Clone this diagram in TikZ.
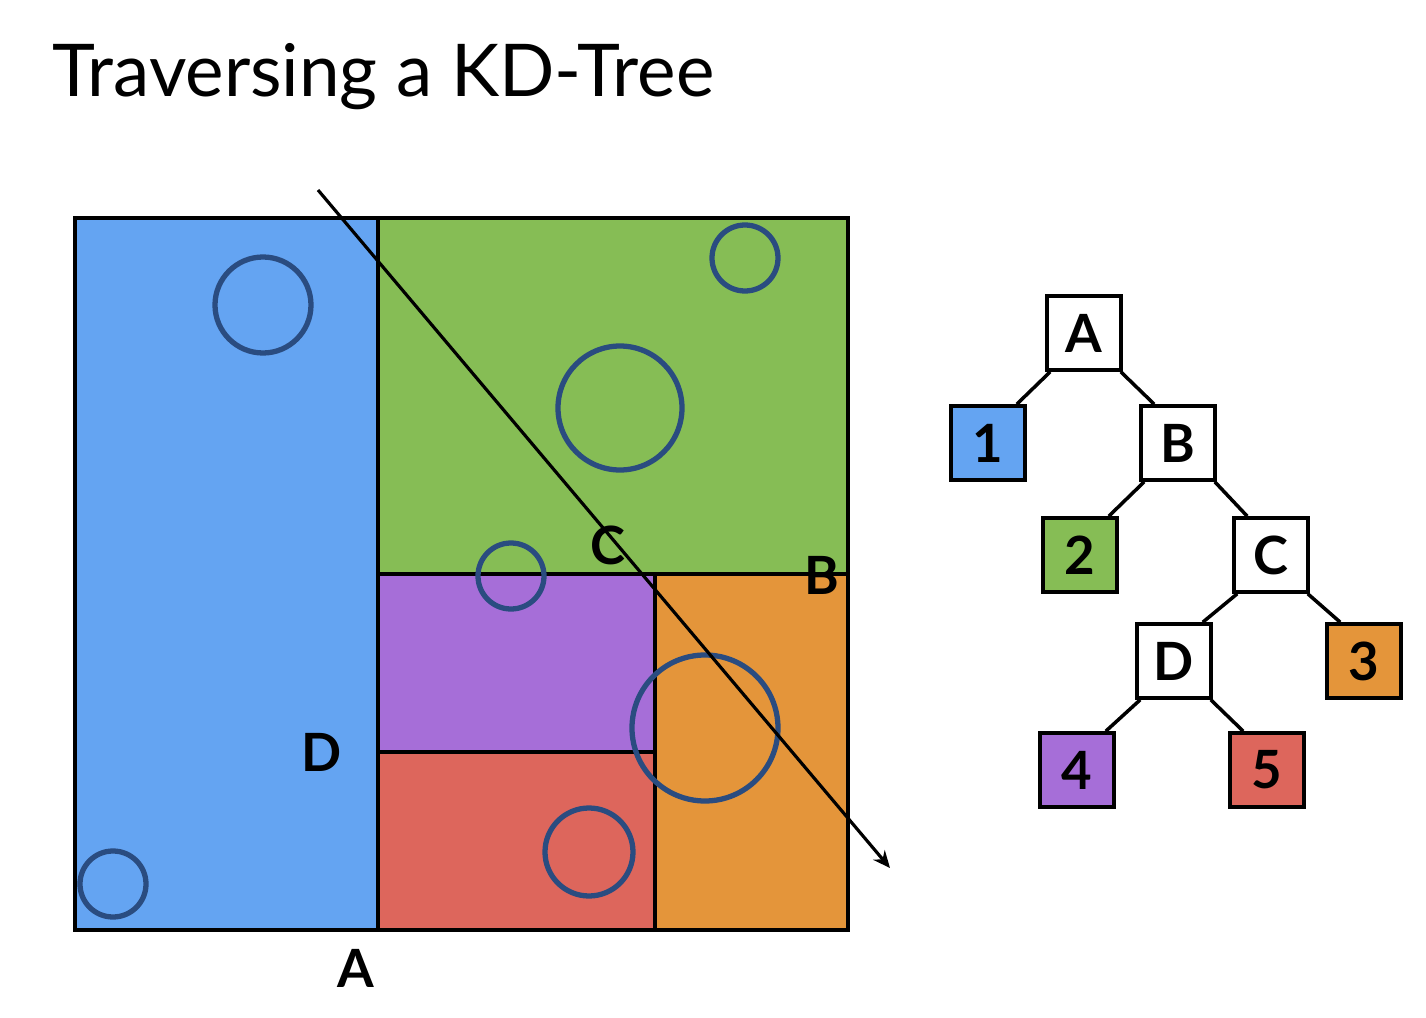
\documentclass[tikz,border=0pt]{standalone}
\usepackage{fontspec}
\setmainfont{Lato}
\usepackage{tikz}
\usetikzlibrary{arrows.meta,positioning}
\definecolor{CellBlue}{RGB}{100,164,242}
\definecolor{CellGreen}{RGB}{134,189,85}
\definecolor{CellPurple}{RGB}{166,110,216}
\definecolor{CellRed}{RGB}{221,102,92}
\definecolor{CellOrange}{RGB}{228,149,58}
\definecolor{RingBlue}{RGB}{42,76,128}

\begin{document}
\begin{tikzpicture}[
 x=0.01cm, y=-0.01cm,
 cell/.style={draw=black, line width=1pt},
 ring/.style={draw=RingBlue, line width=1.5pt},
 split/.style={font=\fontsize{15}{18}\selectfont\bfseries},
 tnode/.style={draw, line width=1pt, fill=white, minimum size=0.74cm, inner sep=0pt, font=\fontsize{15}{18}\selectfont\bfseries},
 edge/.style={line width=1pt},
 ray/.style={-{Stealth[length=1.7mm,width=1.5mm]}, line width=0.9pt}
]
\useasboundingbox (0,0) rectangle (1426,1018);
\node[anchor=base west, inner sep=0pt, font=\fontsize{20.7}{24}\selectfont] (title) at (52,97) {Traversing a KD-Tree};

\fill[CellBlue] (75,218) rectangle (378,930);
\fill[CellGreen] (378,218) rectangle (848,574);
\fill[CellPurple] (378,574) rectangle (655,752);
\fill[CellRed] (378,752) rectangle (655,930);
\fill[CellOrange] (655,574) rectangle (848,930);
\draw[cell] (75,218) rectangle (848,930);
\draw[cell] (378,218) -- (378,930);
\draw[cell] (378,574) -- (848,574);
\draw[cell] (655,574) -- (655,930);
\draw[cell] (378,752) -- (655,752);

\foreach \cx/\cy/\r in {263/305/48, 745/258/33, 620/408/62, 511/576/33, 705/728/73, 589/852/44, 113/884/33}
  \draw[ring] (\cx,\cy) circle[radius=\r];

\node[split] (labA) at (356,968) {A};
\node[split] (labB) at (822,575) {B};
\node[split] (labC) at (608,545) {C};
\node[split] (labD) at (322,752) {D};

\coordinate (rs) at (318,190);
\coordinate (re) at (890,868);
\draw[ray] (rs) -- (re);

\node[tnode] (tA) at (1084,333) {A};
\node[tnode] (tB) at (1178,443) {B};
\node[tnode] (tC) at (1271,555) {C};
\node[tnode] (tD) at (1174,661) {D};
\node[tnode, fill=CellBlue] (t1) at (988,443) {1};
\node[tnode, fill=CellGreen] (t2) at (1080,555) {2};
\node[tnode, fill=CellOrange] (t3) at (1364,661) {3};
\node[tnode, fill=CellPurple] (t4) at (1077,770) {4};
\node[tnode, fill=CellRed] (t5) at (1267,770) {5};

\foreach \p/\c in {tA/t1, tB/t2, tC/tD, tD/t4}
  \draw[edge] ([xshift=0.05cm]\p.south west) -- ([xshift=-0.1cm]\c.north east);
\foreach \p/\c in {tA/tB, tB/tC, tC/t3, tD/t5}
  \draw[edge] ([xshift=-0.02cm]\p.south east) -- ([xshift=0.15cm]\c.north west);
\end{tikzpicture}
\end{document}
